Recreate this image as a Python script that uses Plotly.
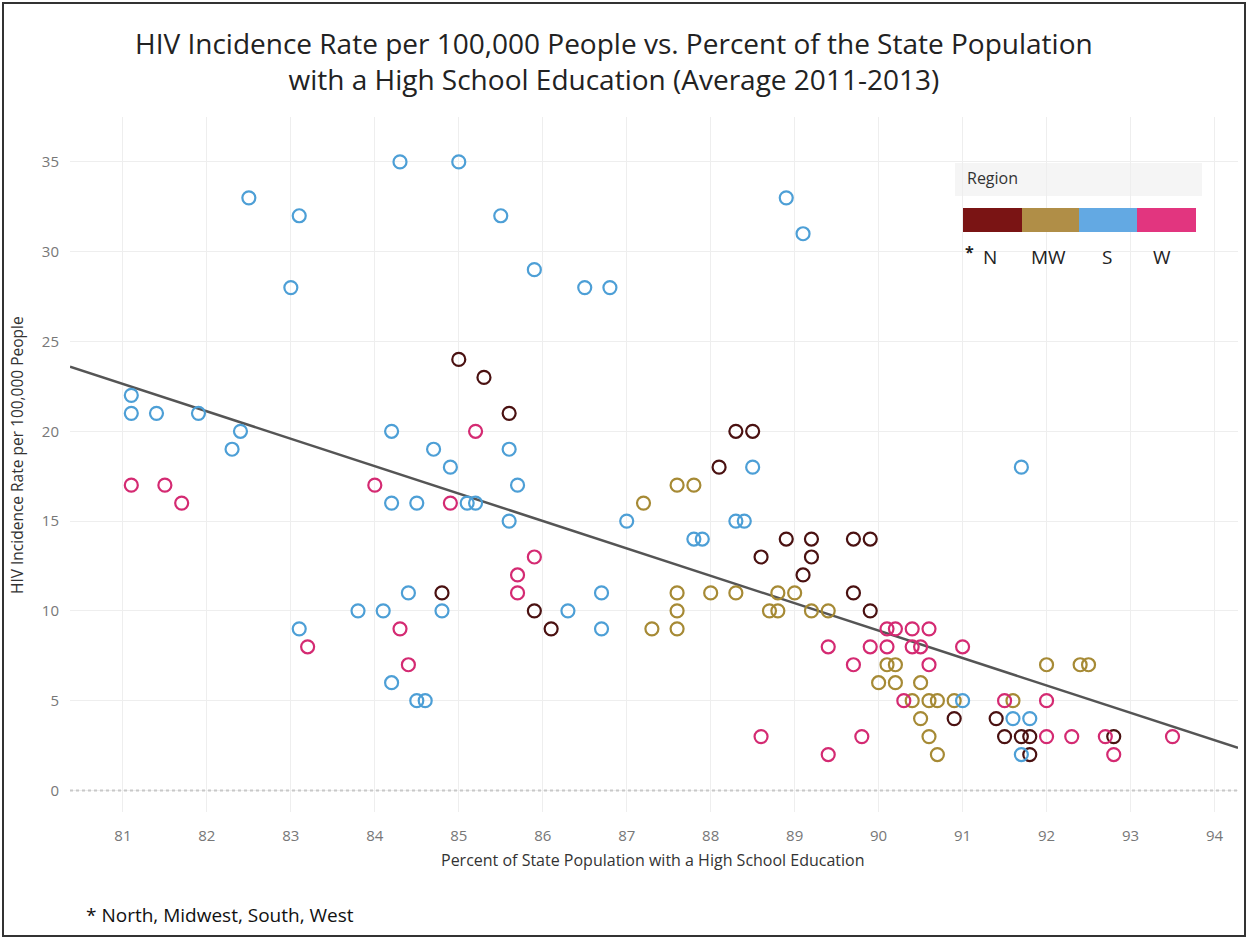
import numpy as np
import plotly.graph_objects as go

# ---- data: percent of state population with a high school education (x)
# ---- and HIV incidence rate per 100,000 people (y), by census region
north_edu = [85.0, 85.3, 85.6, 84.8, 85.9, 86.1, 88.1, 88.3, 88.5, 88.6, 88.9, 89.2, 89.2,
             89.1, 89.7, 89.9, 89.7, 89.9, 90.9, 91.4, 91.5, 91.7, 91.8, 91.8, 92.8]
north_hiv = [24, 23, 21, 11, 10, 9, 18, 20, 20, 13, 14, 14, 13,
             12, 14, 14, 11, 10, 4, 4, 3, 3, 3, 2, 3]

midwest_edu = [87.2, 87.6, 87.8, 87.6, 87.6, 87.6, 87.3, 88.0, 88.3, 88.7, 88.8, 88.8, 89.0,
               89.2, 89.4, 90.1, 90.2, 90.0, 90.2, 90.5, 90.4, 90.6, 90.7, 90.9, 90.5, 90.6,
               90.7, 91.6, 92.0, 92.4, 92.5]
midwest_hiv = [16, 17, 17, 11, 10, 9, 9, 11, 11, 10, 10, 11, 11,
               10, 10, 7, 7, 6, 6, 6, 5, 5, 5, 5, 4, 3,
               2, 5, 7, 7, 7]

south_edu = [82.5, 83.1, 83.0, 84.3, 85.0, 85.5, 85.9, 86.5, 86.8, 88.9, 89.1, 81.1, 81.1,
             81.4, 81.9, 82.4, 82.3, 84.2, 84.7, 84.9, 85.6, 85.7, 84.2, 84.5, 85.1, 85.2,
             85.6, 87.0, 87.8, 87.9, 88.3, 88.4, 88.5, 91.7, 83.1, 83.8, 84.1, 84.4, 84.8,
             84.2, 84.5, 84.6, 86.3, 86.7, 86.7, 91.0, 91.6, 91.8, 91.7]
south_hiv = [33, 32, 28, 35, 35, 32, 29, 28, 28, 33, 31, 22, 21,
             21, 21, 20, 19, 20, 19, 18, 19, 17, 16, 16, 16, 16,
             15, 15, 14, 14, 15, 15, 18, 18, 9, 10, 10, 11, 10,
             6, 5, 5, 10, 11, 9, 5, 4, 4, 2]

west_edu = [81.1, 81.5, 81.7, 84.0, 84.9, 85.2, 85.9, 85.7, 85.7, 83.2, 84.3, 84.4, 88.6,
            89.4, 89.7, 89.4, 89.8, 90.1, 90.2, 90.4, 90.6, 89.9, 90.1, 90.4, 90.5, 91.0,
            90.6, 90.3, 91.5, 92.0, 92.0, 92.3, 92.7, 92.8, 93.5]
west_hiv = [17, 17, 16, 17, 16, 20, 13, 12, 11, 8, 9, 7, 3,
            8, 7, 2, 3, 9, 9, 9, 9, 8, 8, 8, 8, 8,
            7, 5, 5, 5, 3, 3, 3, 2, 3]

region_labels = ["N", "MW", "S", "W"]
region_names = ["North", "Midwest", "South", "West"]
marker_colors = ["#4a1111", "#a68a35", "#4d9fd6", "#d42a72"]
legend_colors = ["#7a1414", "#b08e47", "#63a9e3", "#e2357f"]

x_ticks = list(range(81, 95))
y_ticks = list(range(0, 36, 5))
x_range = [80.37, 94.28]
y_range = [-1.2, 37.5]

# ---- page geometry (pixels)
W, H = 1248, 939
ML, MR, MT, MB = 70, 10, 117, 127
PW, PH = W - ML - MR, H - MT - MB


def px(xp):
    return (xp - ML) / PW


def py(yp):
    return (H - MB - yp) / PH


fig = go.Figure()

groups = [(north_edu, north_hiv), (midwest_edu, midwest_hiv),
          (south_edu, south_hiv), (west_edu, west_hiv)]

# linear trend over all states
all_x = np.concatenate([np.array(g[0]) for g in groups])
all_y = np.concatenate([np.array(g[1], dtype=float) for g in groups])
slope, intercept = np.polyfit(all_x, all_y, 1)
tx = np.array(x_range)
fig.add_trace(go.Scatter(x=tx, y=slope * tx + intercept, mode="lines",
                         line=dict(color="#555555", width=2.5),
                         hoverinfo="skip", showlegend=False))

for (xs, ys), name, col in zip(groups, region_names, marker_colors):
    fig.add_trace(go.Scatter(
        x=xs, y=ys, mode="markers", name=name, showlegend=False,
        marker=dict(symbol="circle", size=13, color="rgba(255,255,255,0)",
                    line=dict(color=col, width=2.2)),
    ))

axis_common = dict(showgrid=True, gridcolor="#EEEEEE", gridwidth=1, zeroline=False,
                   showline=False, ticks="outside",
                   tickcolor="rgba(0,0,0,0)",
                   tickfont=dict(family="Open Sans", size=15, color="#777777"))

fig.update_layout(
    width=W, height=H,
    margin=dict(l=ML, r=MR, t=MT, b=MB),
    paper_bgcolor="white", plot_bgcolor="white",
    xaxis=dict(range=x_range, tickvals=x_ticks, ticklen=10, **axis_common),
    yaxis=dict(range=y_range, tickvals=y_ticks, ticklen=7, **axis_common),
    font=dict(family="Open Sans"),
)

shapes = []
# dotted baseline at zero
shapes.append(dict(type="line", xref="paper", yref="y", x0=0, x1=1, y0=0, y1=0,
                   line=dict(color="#C8C8C8", width=2, dash="dot")))
# outer frame
shapes.append(dict(type="rect", xref="paper", yref="paper",
                   x0=px(3), x1=px(1245), y0=py(936), y1=py(3),
                   line=dict(color="#333333", width=2), fillcolor="rgba(0,0,0,0)"))
# colour legend header band
shapes.append(dict(type="rect", xref="paper", yref="paper",
                   x0=px(955), x1=px(1202), y0=py(196), y1=py(163),
                   line=dict(width=0), fillcolor="#F5F5F5", layer="below"))
seg_edges = [963, 1022, 1079, 1137, 1196]
for i, col in enumerate(legend_colors):
    shapes.append(dict(type="rect", xref="paper", yref="paper",
                       x0=px(seg_edges[i]), x1=px(seg_edges[i + 1]),
                       y0=py(232), y1=py(208),
                       line=dict(width=0), fillcolor=col))
fig.update_layout(shapes=shapes)

ann = []


def text(x, y, s, size, color="#222222", xanchor="center", **kw):
    ann.append(dict(x=px(x), y=py(y), xref="paper", yref="paper", text=s,
                    showarrow=False, xanchor=xanchor, yanchor="middle",
                    font=dict(family="Open Sans", size=size, color=color), **kw))


text(614, 61, "HIV Incidence Rate per 100,000 People vs. Percent of the State Population"
     "<br>with a High School Education (Average 2011-2013)", 28)
text(653, 860, "Percent of State Population with a High School Education", 16, "#333333")
text(17, 455, "HIV Incidence Rate per 100,000 People", 15.5, "#333333", textangle=-90)
text(84, 915, "* North, Midwest, South, West", 19, "#111111", xanchor="left")
text(965, 178, "Region", 16, "#333333", xanchor="left")
label_x = [990, 1048, 1107, 1162]
for lx, lab in zip(label_x, region_labels):
    text(lx, 257, lab, 19, "#222222")
text(969, 252, "<b>*</b>", 16, "#222222")
fig.update_layout(annotations=ann)

fig.write_html("out.html")
